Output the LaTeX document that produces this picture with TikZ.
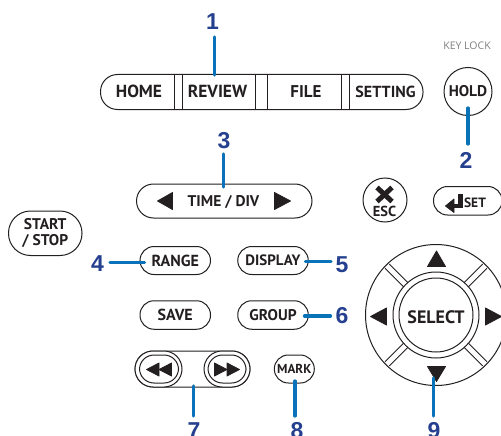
\documentclass[tikz,border=0pt]{standalone}
\usepackage{fontspec}
\setmainfont{PT Sans}
\newfontfamily\numfont{Liberation Sans}
\newfontfamily\keyfont{Open Sans}
\definecolor{linkblue}{HTML}{0A72B8}
\definecolor{numblue}{HTML}{24408E}
\definecolor{inkc}{HTML}{231F20}
\tikzset{
  btn/.style={draw=inkc,line width=1pt,rounded corners=#1,fill=white,inner sep=0pt},
  btn/.default=14pt,
  lab/.style={font=\bfseries\fontsize{#1}{#1}\selectfont,text=inkc,inner sep=0pt},
  lab/.default=16,
  num/.style={font=\numfont\bfseries\fontsize{23}{23}\selectfont,text=numblue,inner sep=0pt},
  link/.style={draw=linkblue,line width=3.2pt,line cap=round},
  tri/.style={fill=inkc,draw=inkc,line width=0.8pt,line join=round},
  ln/.style={draw=inkc,line width=1pt},
}
\begin{document}
\begin{tikzpicture}[x=1pt,y=-1pt]
\useasboundingbox (0,0) rectangle (501,436);
% Top key strip
\draw[ln,rounded corners=17pt] (100.5,74.5) rectangle (423,109.5);
\foreach \x in {174.5,182,255.5,267.5,341.5,349.5} \draw[ln] (\x,74.5) -- (\x,109.5);
\node[lab=17.5] (home) at (139,91.5) {HOME};
\node[lab=17.5] (review) at (217.5,91.5) {REVIEW};
\node[lab=17] (file) at (306,91.5) {FILE};
\node[lab=16] (setting) at (385.5,91.5) {SETTING};
\coordinate (reviewtop) at (214.5,75);
% Hold
\node[draw=inkc,line width=1pt,circle,minimum size=48pt,inner sep=0pt,lab=15.5] (hold) at (468,91.5) {HOLD};
\node[inner sep=0pt,text=black!50,font=\keyfont\fontsize{10.5}{10.5}\selectfont] (keylock) at (467,46) {KEY LOCK};
% Time/div
\draw[ln,rounded corners=17pt] (136.5,184) rectangle (312,218);
\node[lab=15.5] (time) at (223.5,202) {TIME / DIV};
\fill[tri] (172.5,192.5) -- (172.5,209.5) -- (157.5,201) -- cycle;
\fill[tri] (274.5,192.5) -- (274.5,209.5) -- (290.5,201) -- cycle;
% ESC, SET
\node[draw=inkc,line width=1pt,circle,minimum size=44pt,inner sep=0pt] (esc) at (385,200) {};
\draw[inkc,line width=5pt] (377,187.5) -- (392,201.5) (392,187.5) -- (377,201.5);
\node[lab=14.5] (esclab) at (384.5,211) {ESC};
\draw[ln,rounded corners=14pt] (433.5,186.5) rectangle (502,215);
\node[lab=13.5] (setlab) at (475,203) {SET};
\draw[inkc,line width=4.5pt] (460.5,194) -- (460.5,206) -- (452,206);
\fill[tri] (454,199) -- (454,212.5) -- (445.5,206) -- cycle;
% Start/Stop
\node[btn=22pt,minimum width=73.5pt,minimum height=44.5pt,align=center,text=inkc,font=\bfseries\fontsize{15.5}{16}\selectfont] (start) at (45.25,233.25) {START\\/ STOP};
% Small buttons
\node[btn=14pt,minimum width=70.5pt,minimum height=28pt,lab=16] (range) at (175.25,260.5) {RANGE};
\node[btn=14pt,minimum width=70.5pt,minimum height=28pt,lab=15] (display) at (273,260.5) {DISPLAY};
\node[btn=14pt,minimum width=70.5pt,minimum height=28.5pt,lab=16] (save) at (175.25,315) {SAVE};
\node[btn=14pt,minimum width=70.5pt,minimum height=28.5pt,lab=15.5] (group) at (273,315) {GROUP};
\node[btn=14pt,minimum width=40pt,minimum height=28pt,lab=13] (mark) at (294.3,369) {MARK};
% Transport keys
\draw[ln,rounded corners=18pt] (135,351) rectangle (250,387);
\node[btn=18pt,minimum width=47pt,minimum height=36pt] (rew) at (158.5,369) {};
\node[btn=18pt,minimum width=46pt,minimum height=36pt] (fwd) at (227,369) {};
\draw[ln,rounded corners=14.5pt] (139.5,355) rectangle (178.5,383);
\draw[ln,rounded corners=14.5pt] (208,355) rectangle (246,383);
\fill[tri] (159,363) -- (159,376) -- (146.5,369.5) -- cycle;
\fill[tri] (171.5,363) -- (171.5,376) -- (159,369.5) -- cycle;
\fill[tri] (214.5,363) -- (214.5,376) -- (227,369.5) -- cycle;
\fill[tri] (227,363) -- (227,376) -- (239.5,369.5) -- cycle;
\coordinate (tbottom) at (193.5,386);
% Direction pad
\node[draw=inkc,line width=1pt,circle,minimum size=141pt,inner sep=0pt] (pad) at (436,315) {};
\foreach \a in {45,135,225,315}{
  \begin{scope}[shift={(436,315)},rotate=\a]
    \draw[ln] (40,-3) -- (69,-3);
    \draw[ln] (40,3) -- (69,3);
  \end{scope}
}
\node[draw=inkc,line width=1pt,circle,minimum size=86pt,inner sep=0pt,fill=white] (selo) at (436,315) {};
\node[draw=inkc,line width=1pt,circle,minimum size=74pt,inner sep=0pt] (sel) at (436,315) {};
\node[lab=18] (seltext) at (436,317) {SELECT};
\fill[tri] (427.5,266.5) -- (445.5,266.5) -- (436.5,251) -- cycle;
\fill[tri] (427.5,366.5) -- (445.5,366.5) -- (436.5,381.5) -- cycle;
\fill[tri] (386.5,308) -- (386.5,325) -- (370.5,316.5) -- cycle;
\fill[tri] (485.5,308) -- (485.5,325) -- (501.5,316.5) -- cycle;
\coordinate (padbottom) at (433.7,378);
% Callouts
\node[num] (n1) at (212.5,21.5) {1};
\node[num] (n2) at (466,160) {2};
\node[num] (n3) at (224,140.5) {3};
\node[num] (n4) at (97.5,263.5) {4};
\node[num] (n5) at (342,264.5) {5};
\node[num] (n6) at (342,316) {6};
\node[num] (n7) at (194,430.5) {7};
\node[num] (n8) at (297,430.5) {8};
\node[num] (n9) at (434,430.5) {9};
\coordinate (l1) at (214.5,37); \draw[link] (l1) -- (reviewtop);
\coordinate (h2) at (468,108); \coordinate (e2) at (468,144); \draw[link] (h2) -- (e2);
\coordinate (l3) at (223.5,154); \coordinate (t3) at (223.5,187); \draw[link] (l3) -- (t3);
\coordinate (l4) at (110,262.7); \coordinate (r4) at (144.5,262.7); \draw[link] (l4) -- (r4);
\coordinate (d5) at (305.5,261.3); \coordinate (l5) at (331,261.3); \draw[link] (d5) -- (l5);
\coordinate (g6) at (304.5,316); \coordinate (l6) at (330.5,316); \draw[link] (g6) -- (l6);
\coordinate (l7) at (193.5,416); \draw[link] (tbottom) -- (l7);
\coordinate (m8) at (295,381); \coordinate (l8) at (295,416); \draw[link] (m8) -- (l8);
\coordinate (l9) at (433.7,416); \draw[link] (padbottom) -- (l9);
\end{tikzpicture}
\end{document}
